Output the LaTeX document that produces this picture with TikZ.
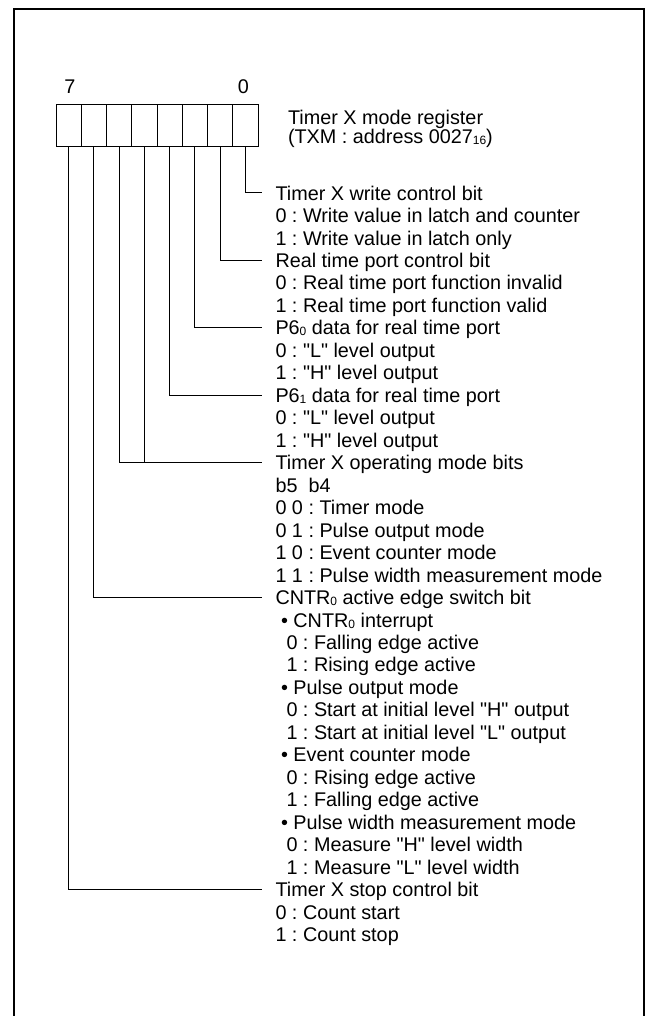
\documentclass[tikz,border=0pt]{standalone}
\usepackage{fontspec}
\setmainfont{Liberation Sans}
\newcommand\lsub[1]{\raisebox{-1pt}{\fontsize{12}{12}\selectfont #1}}
\newcommand\qq{\textquotedbl}
\begin{document}
\frenchspacing
\begin{tikzpicture}[x=1pt,y=-1pt,
  cell/.style={draw, line width=1pt, minimum width=25.25pt, minimum height=42pt, inner sep=0pt, outer sep=0pt, anchor=north west},
  lbl/.style={anchor=west, inner sep=0pt, outer sep=0pt, text height=14.2pt, text depth=0pt, font=\fontsize{19.8}{22.47}\selectfont\frenchspacing},
  conn/.style={line width=1pt},
  frame/.style={line width=2.3pt}]
\useasboundingbox (0,0) rectangle (647,1016);
\draw[frame] (14,1030) -- (14,8.7) -- (644,8.7) -- (644,1030);
% register cells
\foreach \i in {0,...,7}
  \node[cell] (c\i) at ({56+(7-\i)*25.25},105) {};
\node[lbl, anchor=center] (n7) at (70,86) {7};
\node[lbl, anchor=center] (n0) at (243.5,86) {0};
\node[lbl] (title1) at (288,117.8) {Timer X mode register};
\node[lbl] (title2) at (288,136.4) {(TXM : address 0027\lsub{16})};
% description lines
\foreach \k/\dx/\txt in {
  1/0/Timer X write control bit,
  2/0/0 : Write value in latch and counter,
  3/0/1 : Write value in latch only,
  4/0/Real time port control bit,
  5/0/0 : Real time port function invalid,
  6/0/1 : Real time port function valid,
  7/0/P6\lsub{0} data for real time port,
  8/0/0 : \qq L\qq{} level output,
  9/0/1 : \qq H\qq{} level output,
  10/0/P6\lsub{1} data for real time port,
  11/0/0 : \qq L\qq{} level output,
  12/0/1 : \qq H\qq{} level output,
  13/0/Timer X operating mode bits,
  14/0/b5\ \ b4,
  15/0/0 0 : Timer mode,
  16/0/0 1 : Pulse output mode,
  17/0/1 0 : Event counter mode,
  18/0/1 1 : Pulse width measurement mode,
  19/0/CNTR\lsub{0} active edge switch bit,
  20/5.5/• CNTR\lsub{0} interrupt,
  21/11/0 : Falling edge active,
  22/11/1 : Rising edge active,
  23/5.5/• Pulse output mode,
  24/11/0 : Start at initial level \qq H\qq{} output,
  25/11/1 : Start at initial level \qq L\qq{} output,
  26/5.5/• Event counter mode,
  27/11/0 : Rising edge active,
  28/11/1 : Falling edge active,
  29/5.5/• Pulse width measurement mode,
  30/11/0 : Measure \qq H\qq{} level width,
  31/11/1 : Measure \qq L\qq{} level width,
  32/0/Timer X stop control bit,
  33/0/0 : Count start,
  34/0/1 : Count stop}
  \node[lbl] (t\k) at ({275.5+\dx},{193+(\k-1)*22.47}) {\txt};
% connectors
\draw[conn] (c0.south) |- ([xshift=-14pt]t1.west);
\draw[conn] (c1.south) |- ([xshift=-14pt]t4.west);
\draw[conn] (c2.south) |- ([xshift=-14pt]t7.west);
\draw[conn] (c3.south) |- ([xshift=-14pt]t10.west);
\draw[conn] (c5.south) |- ([xshift=-14pt]t13.west);
\draw[conn] (c4.south) -- (c4.south |- t13.west);
\draw[conn] (c6.south) |- ([xshift=-14pt]t19.west);
\draw[conn] (c7.south) |- ([xshift=-14pt]t32.west);
\end{tikzpicture}
\end{document}
